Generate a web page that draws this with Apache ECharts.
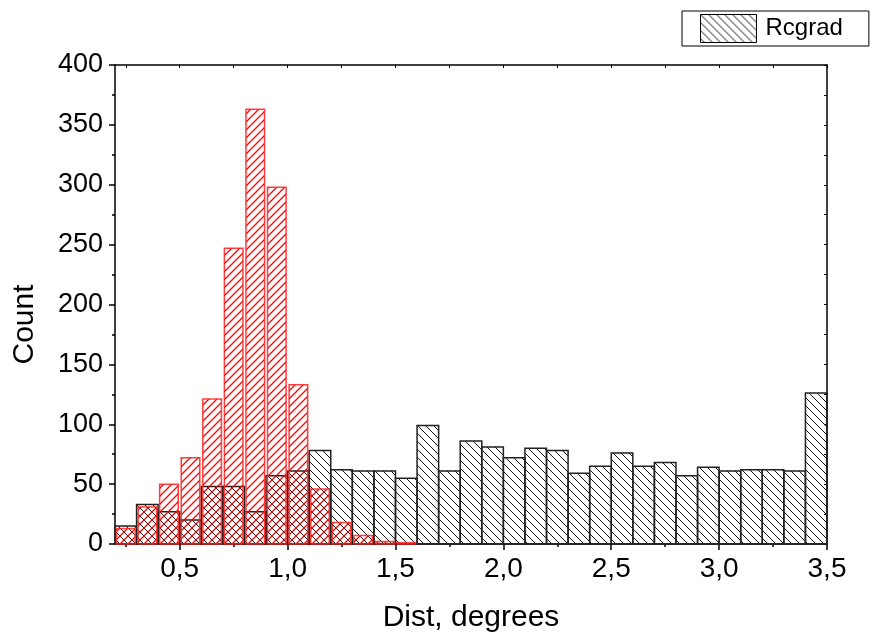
<!DOCTYPE html>
<html><head><meta charset="utf-8">
<script src="https://cdn.jsdelivr.net/npm/echarts@6/dist/echarts.min.js"></script>
<style>html,body{margin:0;padding:0;background:#fff}#c{width:871px;height:638px}</style>
</head><body><div id="c"></div>
<script>
// ---- data ----
const binStarts = [0.2,0.3,0.4,0.5,0.6,0.7,0.8,0.9,1.0,1.1,1.2,1.3,1.4,1.5,1.6,1.7,1.8,1.9,2.0,2.1,2.2,2.3,2.4,2.5,2.6,2.7,2.8,2.9,3.0,3.1,3.2,3.3,3.4];
const binWidth = 0.1;
const rcgradCounts = [15,33,27,20,48,48,27,57,61,78,62,61,61,55,99,61,86,81,72,80,78,59,65,76,65,68,57,64,61,62,62,61,126];
const redCounts = [13,31,50,72,121,247,363,298,133,46,18,7,2,1,0,0,0,0,0,0,0,0,0,0,0,0,0,0,0,0,0,0,0];
const xTickValues = [0.5,1.0,1.5,2.0,2.5,3.0,3.5];
const xMinorValues = [0.25,0.75,1.25,1.75,2.25,2.75,3.25];
const xTopTickValues = [0.25,0.5,0.75,1.0,1.25,1.5,1.75,2.0,2.25,2.5,2.75,3.0,3.25,3.5];
const xMin = 0.2, xMax = 3.5;
const yMin = 0, yMax = 400, yStep = 50;
const seriesNames = ['Rcgrad', 'Reference'];

// ---- hatch patterns ----
function hatch(color, dir, size, lw) {
  const c = document.createElement('canvas');
  c.width = size; c.height = size;
  const g = c.getContext('2d');
  g.strokeStyle = color; g.lineWidth = lw;
  g.beginPath();
  if (dir === 'back') { // "\"
    g.moveTo(-1, -1); g.lineTo(size + 1, size + 1);
    g.moveTo(-1, size - 1); g.lineTo(1, size + 1);
    g.moveTo(size - 1, -1); g.lineTo(size + 1, 1);
  } else { // "/"
    g.moveTo(-1, size + 1); g.lineTo(size + 1, -1);
    g.moveTo(-1, 1); g.lineTo(1, -1);
    g.moveTo(size - 1, size + 1); g.lineTo(size + 1, size - 1);
  }
  g.stroke();
  return c;
}
const blackPattern = { image: hatch('#111', 'back', 8, 1), repeat: 'repeat' };
const redPattern = { image: hatch('#ff0000', 'fwd', 8, 1.3), repeat: 'repeat' };

function makeData(counts) {
  const out = [];
  binStarts.forEach((s, i) => { if (counts[i] > 0) out.push([s, s + binWidth, counts[i]]); });
  return out;
}
function renderer(fill, stroke, lw, inset) {
  return function (params, api) {
    const p0 = api.coord([api.value(0), api.value(2)]);
    const p1 = api.coord([api.value(1), 0]);
    return {
      type: 'rect',
      shape: { x: p0[0] + inset, y: p0[1], width: p1[0] - p0[0] - 2 * inset, height: p1[1] - p0[1] },
      style: { fill: fill, stroke: stroke, lineWidth: lw }
    };
  };
}

const FONT = '"Liberation Sans", Arial, sans-serif';
const chart = echarts.init(document.getElementById('c'), null, { renderer: 'canvas' });
chart.setOption({
  animation: false,
  backgroundColor: '#fff',
  grid: { left: 115, right: 44, top: 65, bottom: 91 },
  legend: {
    data: [{ name: seriesNames[0], icon: 'rect', itemStyle: { color: blackPattern, borderColor: '#000', borderWidth: 1 } }],
    left: 682, top: 11,
    itemWidth: 56, itemHeight: 28,
    padding: [3, 26, 3, 18],
    borderColor: '#000', borderWidth: 1,
    selectedMode: false,
    textStyle: { fontFamily: FONT, fontSize: 24, color: '#000', padding: [0, 0, 0, 4] }
  },
  xAxis: [
    {
      type: 'value', min: xMin, max: xMax, position: 'bottom',
      name: 'Dist, degrees', nameLocation: 'middle', nameGap: 59,
      nameTextStyle: { fontFamily: FONT, fontSize: 30, color: '#000' },
      axisLine: { show: true, onZero: false, lineStyle: { color: '#000', width: 1.5 } },
      axisTick: { show: true, customValues: xTickValues, length: 6, inside: false, lineStyle: { color: '#000', width: 1.5 } },
      axisLabel: { show: true, customValues: xTickValues, margin: 11, fontFamily: FONT, fontSize: 28, color: '#000',
        formatter: v => v.toFixed(1).replace('.', ',') },
      splitLine: { show: false }
    },
    {
      type: 'value', min: xMin, max: xMax, position: 'bottom',
      axisLine: { show: false },
      axisTick: { show: true, customValues: xMinorValues, length: 3, inside: false, lineStyle: { color: '#000', width: 1.5 } },
      axisLabel: { show: false }, splitLine: { show: false }
    },
    {
      type: 'value', min: xMin, max: xMax, position: 'top',
      axisLine: { show: true, onZero: false, lineStyle: { color: '#000', width: 1.5 } },
      axisTick: { show: true, customValues: xTopTickValues, length: 3, inside: true, lineStyle: { color: '#000', width: 1 } },
      axisLabel: { show: false }, splitLine: { show: false }
    }
  ],
  yAxis: [
    {
      type: 'value', min: yMin, max: yMax, interval: yStep, position: 'left',
      name: 'Count', nameLocation: 'middle', nameGap: 75, nameRotate: 90,
      nameTextStyle: { fontFamily: FONT, fontSize: 30, color: '#000', padding: [0, 40, 0, 0] },
      axisLine: { show: true, onZero: false, lineStyle: { color: '#000', width: 1.5 } },
      axisTick: { show: true, length: 6, inside: false, lineStyle: { color: '#000', width: 1.5 } },
      minorTick: { show: true, splitNumber: 2, length: 3, lineStyle: { color: '#000', width: 1.5 } },
      axisLabel: { margin: 12, fontFamily: FONT, fontSize: 27, color: '#000' },
      splitLine: { show: false }, minorSplitLine: { show: false }
    },
    {
      type: 'value', min: yMin, max: yMax, interval: yStep / 2, position: 'right',
      axisLine: { show: true, onZero: false, lineStyle: { color: '#000', width: 1.5 } },
      axisTick: { show: true, length: 3, inside: true, lineStyle: { color: '#000', width: 1 } },
      axisLabel: { show: false }, splitLine: { show: false }
    }
  ],
  series: [
    {
      name: seriesNames[0], type: 'custom', xAxisIndex: 0, yAxisIndex: 0, silent: true,
      itemStyle: { color: blackPattern },
      renderItem: renderer(blackPattern, '#222', 1.5, 0),
      encode: { x: [0, 1], y: 2 },
      data: makeData(rcgradCounts), z: 2
    },
    {
      name: seriesNames[1], type: 'custom', xAxisIndex: 0, yAxisIndex: 0, silent: true,
      itemStyle: { color: redPattern },
      renderItem: renderer(redPattern, 'rgba(255,30,30,0.85)', 1.5, 1.5),
      encode: { x: [0, 1], y: 2 },
      data: makeData(redCounts), z: 3
    }
  ]
});
</script></body></html>
